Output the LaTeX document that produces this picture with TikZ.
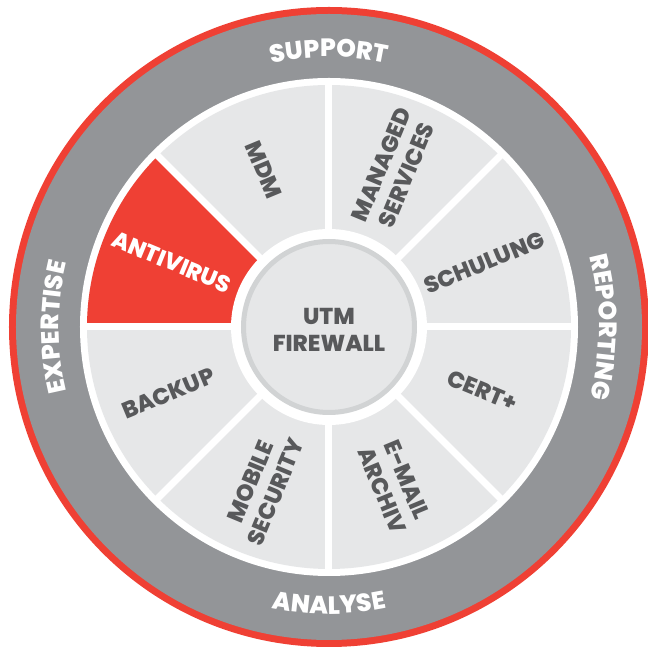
\documentclass[tikz,border=0pt]{standalone}
\usepackage{fontspec}
\setmainfont{Poppins}[BoldFont={Poppins ExtraBold}]
\usetikzlibrary{decorations.text}
\definecolor{ringred}{HTML}{EF4034}
\definecolor{ringgray}{HTML}{939598}
\definecolor{cellgray}{HTML}{E6E7E8}
\definecolor{hubgray}{HTML}{D1D3D4}
\definecolor{txtgray}{HTML}{58595B}

\begin{document}
\begin{tikzpicture}[x=1pt,y=1pt,
    cell/.style={font=\fontsize{23}{27}\selectfont\bfseries, text=txtgray, align=center, inner sep=0pt},
    ringtext/.style={decorate, decoration={text along path, text align=center, text color=white,
      text={|\fontsize{25}{25}\selectfont\bfseries|#1}}}]
  \useasboundingbox (-329,-320) rectangle (319,327);
  \fill[ringred] (0,0) circle[radius=320];
  \fill[ringgray] (0,0) circle[radius=313];
  \fill[white] (0,0) circle[radius=249];
  \fill[cellgray] (0,0) circle[radius=242];
  \fill[ringred] (0,0) -- (135:242) arc[start angle=135, end angle=180, radius=242] -- cycle;
  \foreach \a in {0,45,...,315}
    \draw[white, line width=7] (0,0) -- (\a:246);
  \fill[white] (0,0) circle[radius=98];
  \draw[hubgray, line width=5, fill=cellgray] (0,0) circle[radius=85.5];

  \path[ringtext=SUPPORT] (150:270) arc[start angle=150, end angle=30, radius=270];
  \path[ringtext=REPORTING] (60:270) arc[start angle=60, end angle=-60, radius=270];
  \path[ringtext=ANALYSE] (210:287) arc[start angle=210, end angle=330, radius=287];
  \path[ringtext=EXPERTISE] (240:270) arc[start angle=240, end angle=120, radius=270];

  \node[cell, rotate=-67.5] (mdm) at (112.5:170) {MDM};
  \node[cell, rotate=-22.5, text=white] (av) at (157.5:170) {ANTIVIRUS};
  \node[cell, rotate=22.5] (bak) at (202.5:174) {BACKUP};
  \node[cell, rotate=67.5] (mob) at (247.5:173) {MOBILE\\SECURITY};
  \node[cell, rotate=-67.5] (mail) at (292.5:171) {E-MAIL\\ARCHIV};
  \node[cell, rotate=-22.5] (cert) at (337.5:166) {CERT+};
  \node[cell, rotate=22.5] (sch) at (22.5:168) {SCHULUNG};
  \node[cell, rotate=67.5] (mgd) at (67.5:170) {MANAGED\\SERVICES};
  \node[cell] (utm) at (0,-3) {UTM\\FIREWALL};
\end{tikzpicture}
\end{document}
